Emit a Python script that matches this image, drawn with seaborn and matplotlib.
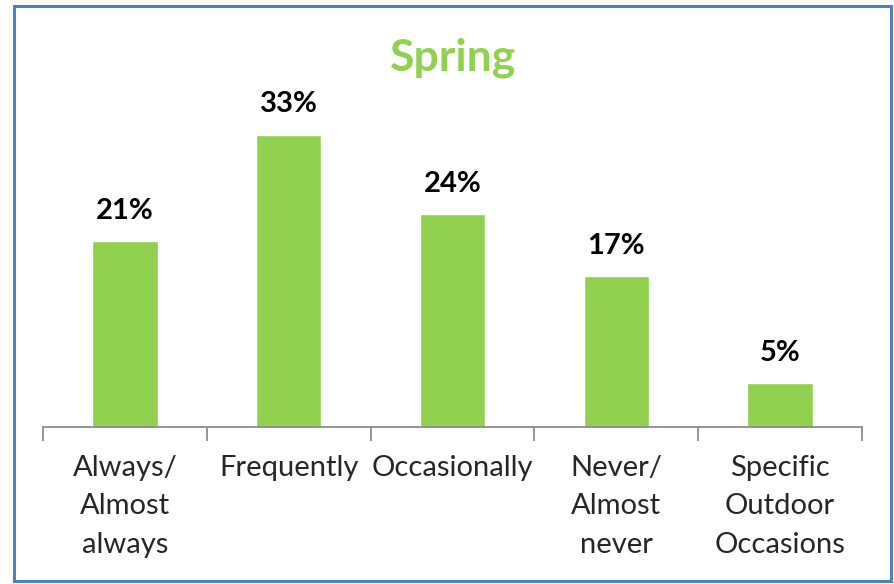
import matplotlib
matplotlib.use("Agg")
import matplotlib.pyplot as plt
import seaborn as sns
import pandas as pd
from matplotlib.patches import Rectangle

categories = ["Always/\nAlmost\nalways", "Frequently", "Occasionally", "Never/\nAlmost\nnever", "Specific\nOutdoor\nOccasions"]
values = [21, 33, 24, 17, 5]
value_labels = ["21%", "33%", "24%", "17%", "5%"]
title = "Spring"

sns.set_theme(style="white")
plt.rcParams['font.family'] = ['Lato', 'DejaVu Sans']

fig = plt.figure(figsize=(8.94, 5.84), dpi=100)
ax = fig.add_axes([43/894, 1-427/584, (862-43)/894, (427-108)/584])

df = pd.DataFrame({"cat": categories, "val": values})
sns.barplot(data=df, x="cat", y="val", color="#92D050", width=0.4, saturation=1, ax=ax)

ax.set_ylim(0, 36)
ax.set_xlim(-0.5, 4.5)
for i, (v, lab) in enumerate(zip(values, value_labels)):
    ax.text(i, v + 3.4, lab, ha="center", va="center", fontsize=21, fontweight="bold", color="black")

ax.set_xlabel("")
ax.set_ylabel("")
ax.set_yticks([])
for s in ["top", "right", "left"]:
    ax.spines[s].set_visible(False)
ax.spines["bottom"].set_color("#8c8c8c")
ax.spines["bottom"].set_linewidth(1.3)
ax.tick_params(axis="x", which="major", length=0, pad=20, labelsize=21)
ax.set_xticks(range(len(categories)))
ax.set_xticklabels(categories, va="top", linespacing=1.6)
ax.set_xticks([i - 0.5 for i in range(len(categories) + 1)], minor=True)
ax.tick_params(axis="x", which="minor", length=10, width=1.3, color="#8c8c8c", direction="out", bottom=True)

fig.text(453/894, 1-58/584, title, ha="center", va="center", fontsize=32, fontweight="bold", color="#92D050")

fig.patches.append(Rectangle((14/894, 1-581/584), (891-14)/894, (581-6)/584,
                             transform=fig.transFigure, fill=False, edgecolor="#4F81BD", linewidth=2.2))

fig.savefig("out.png", dpi=100)
